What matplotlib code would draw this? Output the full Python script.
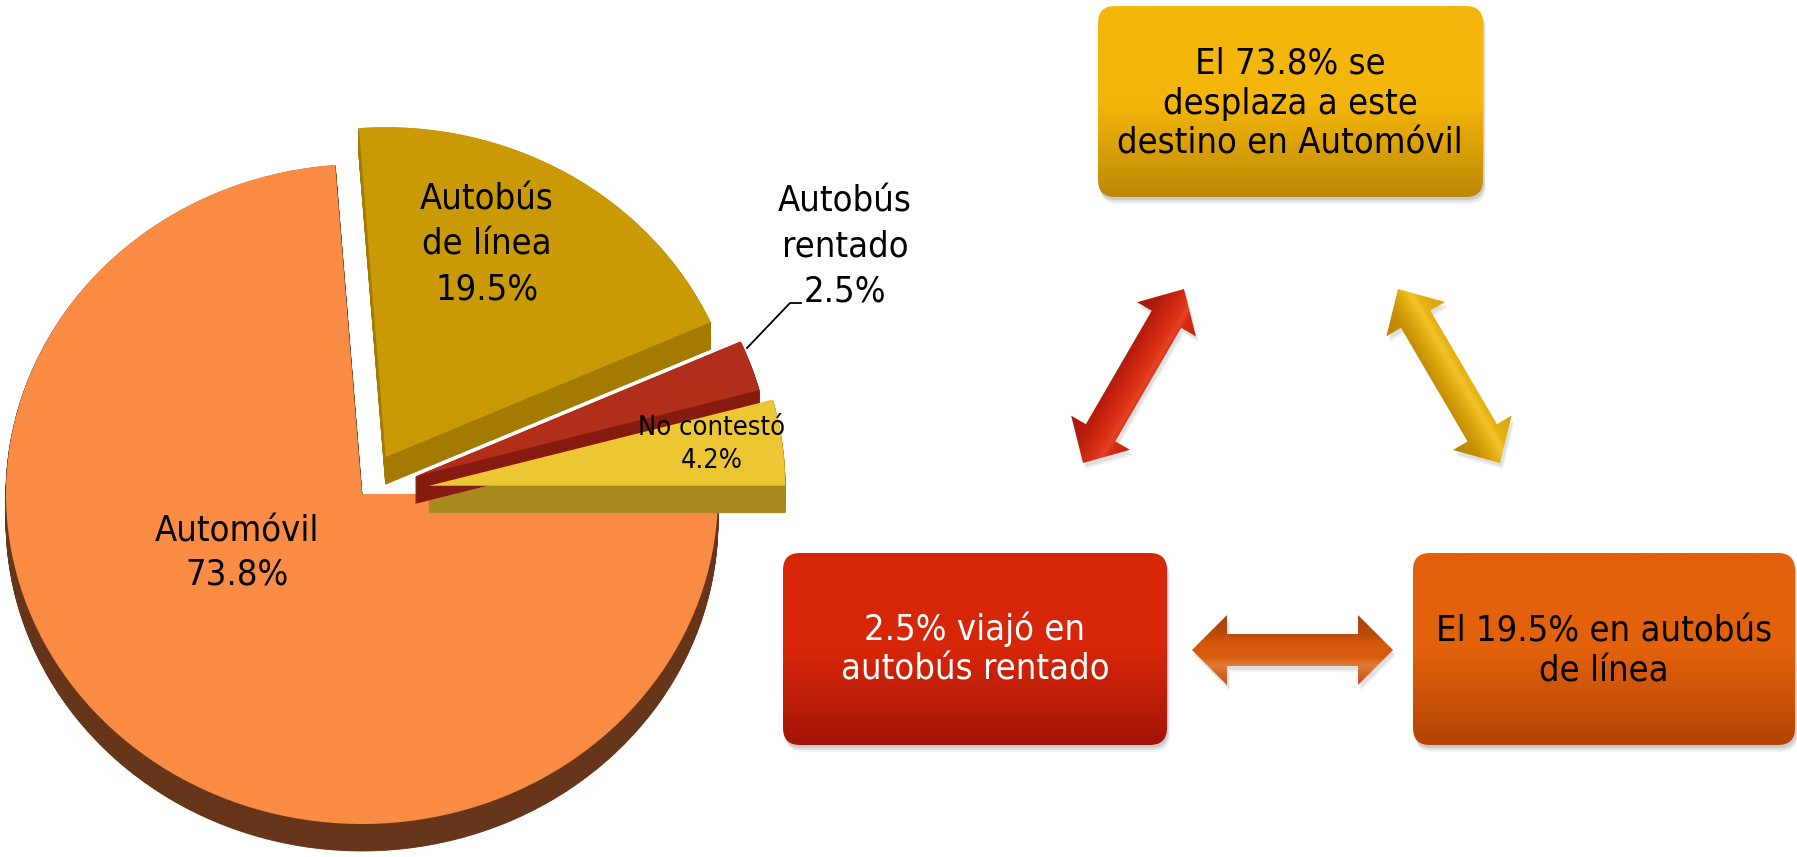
import numpy as np
import matplotlib
matplotlib.use("Agg")
import matplotlib.pyplot as plt
from matplotlib import font_manager as fm
from matplotlib.patches import FancyBboxPatch, Polygon
from matplotlib.colors import to_rgb

# ---------------- data ----------------
categories = ["No contestó", "Autobús rentado", "Autobús de línea", "Automóvil"]
label_names = ["No contestó", "Autobús\nrentado", "Autobús\nde línea", "Automóvil"]
shares = [4.2, 2.5, 19.5, 73.8]
face_colors = ["#EDC733", "#B02E1A", "#C99A06", "#F98B44"]
side_colors = ["#A8891E", "#861C10", "#A37B00", "#67361A"]
explode = [0.19, 0.16, 0.13, 0.0]

box_texts = ["El 73.8% se\ndesplaza a este\ndestino en Automóvil",
             "2.5% viajó en\nautobús rentado",
             "El 19.5% en autobús\nde línea"]
box_top_colors = ["#F5B60B", "#D72609", "#E2610B"]
box_bottom_colors = ["#BC8905", "#A31507", "#B34405"]
box_text_colors = ["black", "white", "black"]

# ---------------- fonts ----------------
has_cond = any(f.name == "DejaVu Sans" and "condensed" in str(f.stretch)
               for f in fm.fontManager.ttflist)
if has_cond:
    STRETCH = "condensed"
    FS, FS_SMALL = 26, 19.5
else:
    STRETCH = "normal"
    FS, FS_SMALL = 23.5, 18
FK = dict(family="DejaVu Sans", fontstretch=STRETCH)

W, H = 1797, 857
fig = plt.figure(figsize=(W / 100, H / 100), dpi=100)

# ---------------- pie ----------------
PIE_W = 860
cx, cy, rx, ry = 362, 494, 356, 330
axp = fig.add_axes([0, 0, PIE_W / W, 1])
depth = 27 / ry
for k in np.linspace(depth / 40, depth, 40):
    wd, _ = axp.pie(shares, explode=explode, colors=side_colors, startangle=0,
                    counterclock=True, center=(0, -k),
                    wedgeprops=dict(linewidth=0.6))
    for w, e, c in zip(wd, explode, side_colors):
        w.set_zorder(1 if e == 0 else 3)
        w.set_edgecolor(c)
wf, _ = axp.pie(shares, explode=explode, colors=face_colors, startangle=0,
                counterclock=True, wedgeprops=dict(linewidth=0))
for w, e in zip(wf, explode):
    w.set_zorder(2 if e == 0 else 4)
axp.set_aspect("auto")
axp.set_xlim(-cx / rx, (PIE_W - cx) / rx)
axp.set_ylim(-(H - cy) / ry, cy / ry)
axp.axis("off")

# ---------------- overlay (pixel coords) ----------------
axo = fig.add_axes([0, 0, 1, 1])
axo.set_xlim(0, W)
axo.set_ylim(H, 0)
axo.axis("off")


def lines_text(ax, x, yc, text, spacing, fs, color="black", z=10):
    lines = text.split("\n")
    n = len(lines)
    em = fs * 100 / 72
    for i, ln in enumerate(lines):
        yb = yc + (i - (n - 1) / 2) * spacing + 0.365 * em
        ax.text(x, yb, ln, ha="center", va="baseline", fontsize=fs,
                color=color, zorder=z, **FK)


def interp_stops(t, stops):
    pos = [s[0] for s in stops]
    cols = np.array([to_rgb(s[1]) for s in stops])
    out = np.zeros(t.shape + (3,))
    for c in range(3):
        out[..., c] = np.interp(t, pos, cols[:, c])
    return out


def grad_fill(ax, patch, bbox, origin, direction, length, stops, z):
    x0, y0, x1, y1 = bbox
    xs = np.linspace(x0, x1, 240)
    ys = np.linspace(y0, y1, 240)
    X, Y = np.meshgrid(xs, ys)
    d = np.array(direction, float)
    d /= np.linalg.norm(d)
    t = ((X - origin[0]) * d[0] + (Y - origin[1]) * d[1]) / length
    t = np.clip(t, 0, 1)
    arr = interp_stops(t, stops)
    im = ax.imshow(arr, extent=(x0, x1, y1, y0), origin="upper",
                   aspect="auto", interpolation="bilinear", zorder=z)
    im.set_clip_path(patch)


# pie labels
label_pos = [(712, 441.5, FS_SMALL, 33), (845, 243.5, FS, 45),
             (487, 241.5, FS, 45), (237, 550, FS, 43)]
for name, val, (x, y, fs, sp) in zip(label_names, shares, label_pos):
    lines_text(axo, x, y, f"{name}\n{val:.1f}%", sp, fs)
axo.plot([747, 790, 801], [348, 303, 303], color="black", lw=1.3, zorder=10)

# boxes
box_rects = [(1098, 6, 1483, 197), (783, 553, 1167, 745), (1413, 553, 1795, 745)]
box_text_pos = [(1290, 100.5, 40), (975, 646.5, 40), (1604, 648, 40)]
for (x0, y0, x1, y1), t, ctop, cbot, tc, (tx, ty, sp) in zip(
        box_rects, box_texts, box_top_colors, box_bottom_colors,
        box_text_colors, box_text_pos):
    for off, a in [(7, 0.05), (5, 0.07), (3, 0.09)]:
        sh = FancyBboxPatch((x0 + off * 0.4, y0 + off), x1 - x0, y1 - y0,
                            boxstyle="round,pad=0,rounding_size=17",
                            facecolor=(0, 0, 0, a), edgecolor="none", zorder=1)
        axo.add_patch(sh)
    p = FancyBboxPatch((x0, y0), x1 - x0, y1 - y0,
                       boxstyle="round,pad=0,rounding_size=17",
                       facecolor="none", edgecolor="none", zorder=2)
    axo.add_patch(p)
    grad_fill(axo, p, (x0, y0, x1, y1), (x0, y0), (0, 1), y1 - y0,
              [(0, ctop), (0.5, ctop), (1, cbot)], 2)
    lines_text(axo, tx, ty, t, sp, FS, color=tc)


# double arrows
def double_arrow(p1, p2, w, hw, hl, stops):
    p1 = np.array(p1, float)
    p2 = np.array(p2, float)
    u = (p2 - p1) / np.linalg.norm(p2 - p1)
    n = np.array([-u[1], u[0]])
    pts = [p1, p1 + u * hl + n * hw / 2, p1 + u * hl + n * w / 2,
           p2 - u * hl + n * w / 2, p2 - u * hl + n * hw / 2, p2,
           p2 - u * hl - n * hw / 2, p2 - u * hl - n * w / 2,
           p1 + u * hl - n * w / 2, p1 + u * hl - n * hw / 2]
    pts = np.array(pts)
    for off, a in [(6, 0.05), (4, 0.07)]:
        sh = Polygon(pts + np.array([off * 0.5, off]), closed=True,
                     facecolor=(0, 0, 0, a), edgecolor="none", zorder=1)
        axo.add_patch(sh)
    poly = Polygon(pts, closed=True, facecolor="none", edgecolor="none", zorder=3)
    axo.add_patch(poly)
    x0, y0 = pts.min(axis=0) - 2
    x1, y1 = pts.max(axis=0) + 2
    mid = (p1 + p2) / 2
    origin = mid - n * hw / 2
    grad_fill(axo, poly, (x0, y0, x1, y1), origin, n, hw, stops, 3)


double_arrow((1083, 463), (1184, 289), 34, 68, 35,
             [(0, "#A8180A"), (0.28, "#B41C0C"), (0.45, "#CC2610"),
              (0.62, "#DC3416"), (0.7, "#E64426"), (0.78, "#D42C12"), (1, "#C42410")])
double_arrow((1500, 463), (1398, 289), 34, 68, 35,
             [(0, "#B88405"), (0.28, "#C69006"), (0.45, "#DEA80C"),
              (0.62, "#F2C42A"), (0.7, "#E8B414"), (1, "#D8A008")])
double_arrow((1192, 650), (1393, 650), 32, 70, 35,
             [(0, "#A84008"), (0.28, "#BC4C0A"), (0.4, "#D4580C"),
              (0.6, "#D85C10"), (0.72, "#E27A3A"), (1, "#C25010")])

axo.set_xlim(0, W)
axo.set_ylim(H, 0)
fig.savefig("out.png", dpi=100)
